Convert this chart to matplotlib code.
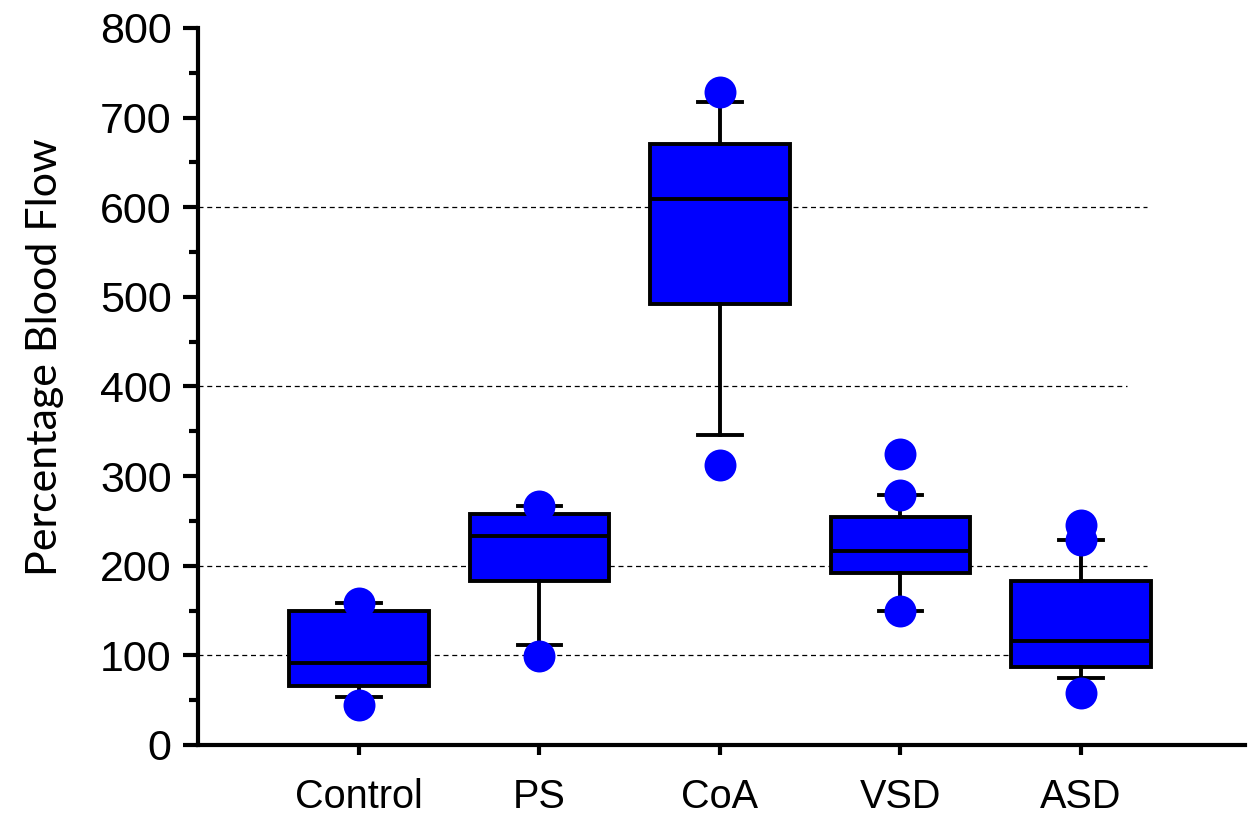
import matplotlib.pyplot as plt
from matplotlib.ticker import MultipleLocator

groups = ['Control', 'PS', 'CoA', 'VSD', 'ASD']
q1 = [66, 183, 492, 192, 87]
med = [92, 233, 609, 216, 116]
q3 = [150, 258, 671, 254, 183]
wlo = [54, 112, 346, 150, 75]
whi = [158, 267, 717, 279, 229]
outliers = [[158, 45], [267, 99], [729, 312], [325, 279, 150], [245, 229, 58]]
grid_vals = [100, 200, 400, 600]
grid_ends = [0.906, 0.906, 0.887, 0.906]

plt.rcParams['font.family'] = ['Liberation Sans', 'DejaVu Sans']

fig = plt.figure(figsize=(12.49, 8.21), dpi=100)
ax = fig.add_axes([0.1585, 0.0926, 0.8383, 0.8733])

for v, e in zip(grid_vals, grid_ends):
    ax.axhline(v, xmin=0, xmax=e, color='black', lw=0.9, ls=(0, (4, 3)), zorder=1)

stats = []
for i, g in enumerate(groups):
    stats.append(dict(label=g, q1=q1[i], med=med[i], q3=q3[i],
                      whislo=wlo[i], whishi=whi[i], fliers=[]))

pos = list(range(1, len(groups) + 1))
ax.bxp(stats, positions=pos, widths=0.775, capwidths=0.24, patch_artist=True,
       showfliers=False,
       boxprops=dict(facecolor='#0000ff', edgecolor='black', linewidth=2.8),
       medianprops=dict(color='black', linewidth=2.8),
       whiskerprops=dict(color='black', linewidth=2.8),
       capprops=dict(color='black', linewidth=2.8), zorder=2)

for p, pts in zip(pos, outliers):
    ax.plot([p] * len(pts), pts, 'o', color='#0000ff', ms=23, mec='none', zorder=3)

ax.set_xlim(0.108, 5.909)
ax.set_ylim(0, 800)
ax.set_xticks(pos)
ax.set_xticklabels(groups)
ax.yaxis.set_major_locator(MultipleLocator(100))
ax.yaxis.set_minor_locator(MultipleLocator(50))

for s in ['top', 'right']:
    ax.spines[s].set_visible(False)
for s in ['left', 'bottom']:
    ax.spines[s].set_linewidth(3)

ax.tick_params(axis='y', which='major', length=11, width=3, labelsize=31, pad=8)
ax.tick_params(axis='y', which='minor', length=6.5, width=3)
ax.tick_params(axis='x', which='major', length=7, width=3, labelsize=28.5, pad=17)

ax.set_ylabel('Percentage Blood Flow', fontsize=31, family=['Lato', 'DejaVu Sans'])
ax.yaxis.set_label_coords(-0.128, 0.541)

fig.savefig('out.png', dpi=100)
